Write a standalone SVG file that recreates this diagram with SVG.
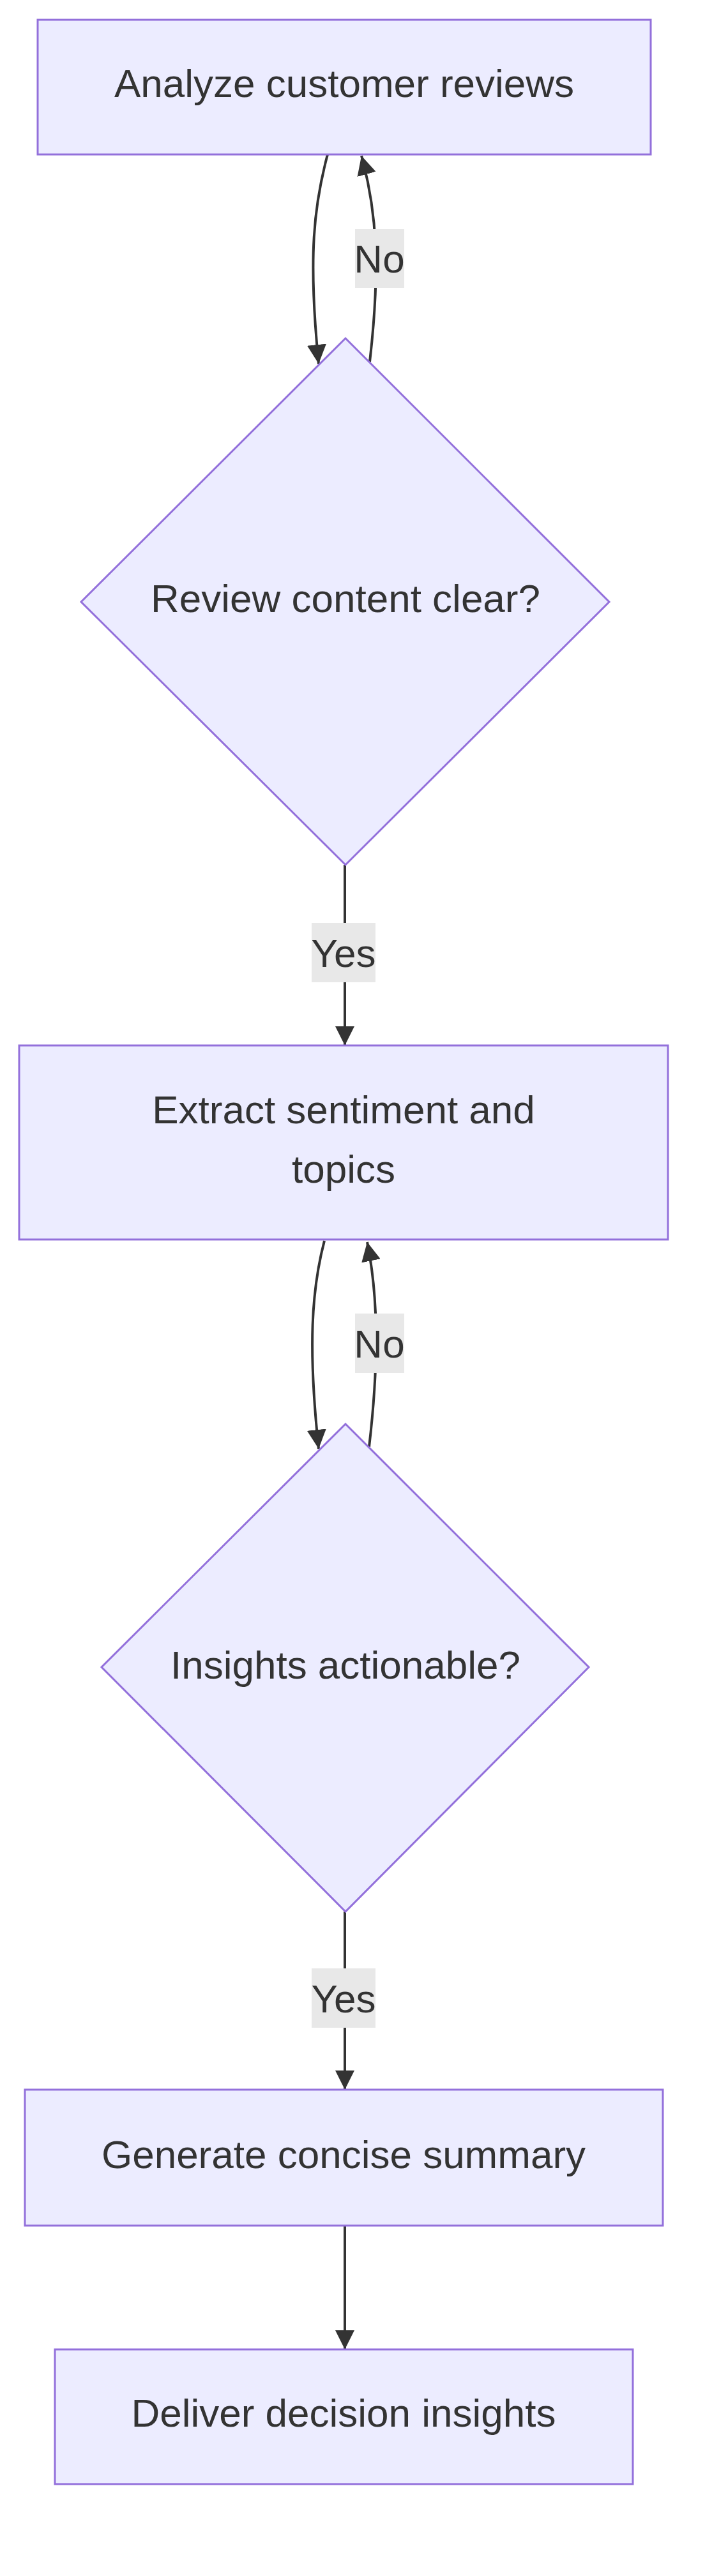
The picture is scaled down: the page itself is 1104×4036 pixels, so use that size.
<svg xmlns="http://www.w3.org/2000/svg" width="1104" height="4036" viewBox="0 0 1104 4036">
<style>
.node{fill:#ECECFF;stroke:#9370DB;stroke-width:3}
.t{font-family:"Liberation Sans",Arial,sans-serif;font-size:62px;fill:#333;text-anchor:middle;dominant-baseline:central}
.e{fill:none;stroke:#333;stroke-width:4}
.lb{fill:#e8e8e8}
</style>
<defs>
<marker id="ah" viewBox="0 0 10 10" refX="10" refY="5" markerWidth="30" markerHeight="30" markerUnits="userSpaceOnUse" orient="auto">
<path d="M0,0 L10,5 L0,10 z" fill="#333"/>
</marker>
</defs>
<rect width="1104" height="4036" fill="#fff"/>
<g id="edges">
<path class="e" d="M513,242 C492,320 482,400 499,570" marker-end="url(#ah)"/>
<path class="e" d="M579,567 C596,420 590,330 566,244" marker-end="url(#ah)"/>
<path class="e" d="M540,1355 L540,1638" marker-end="url(#ah)"/>
<path class="e" d="M508,1944 C488,2020 482,2110 499,2270" marker-end="url(#ah)"/>
<path class="e" d="M578,2267 C594,2130 592,2030 575,1946" marker-end="url(#ah)"/>
<path class="e" d="M540,2995 L540,3274" marker-end="url(#ah)"/>
<path class="e" d="M540,3487 L540,3681" marker-end="url(#ah)"/>
<rect class="lb" x="556" y="359" width="77" height="92"/><text class="t" x="594" y="405">No</text>
<rect class="lb" x="488" y="1446" width="100" height="93"/><text class="t" x="538" y="1493">Yes</text>
<rect class="lb" x="556" y="2058" width="77" height="93"/><text class="t" x="594" y="2105">No</text>
<rect class="lb" x="488" y="3084" width="100" height="93"/><text class="t" x="538" y="3131">Yes</text>
</g>
<g id="A"><rect class="node" x="59" y="31" width="960" height="211"/><text class="t" x="539" y="130">Analyze customer reviews</text></g>
<g id="B"><polygon class="node" points="541,530 954,943 541,1355 127,943"/><text class="t" x="541" y="937">Review content clear?</text></g>
<g id="C"><rect class="node" x="30" y="1638" width="1016" height="304"/><text class="t" x="538" y="1738">Extract sentiment and</text><text class="t" x="538" y="1831">topics</text></g>
<g id="D"><polygon class="node" points="541,2231 922,2612 541,2995 159,2612"/><text class="t" x="541" y="2608">Insights actionable?</text></g>
<g id="E"><rect class="node" x="39" y="3274" width="999" height="213"/><text class="t" x="538" y="3375">Generate concise summary</text></g>
<g id="F"><rect class="node" x="86" y="3681" width="905" height="211"/><text class="t" x="538" y="3780">Deliver decision insights</text></g>
</svg>
